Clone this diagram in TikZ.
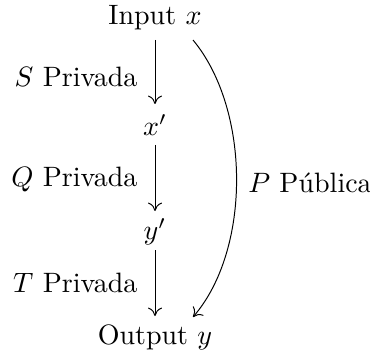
\documentclass[tikz,border=0pt]{standalone}
\usetikzlibrary{arrows.meta}
\begin{document}
\begin{tikzpicture}[x=0.357pt,y=-0.357pt,
  obj/.style={inner sep=0pt,outer sep=0pt},
  lbl/.style={inner sep=0pt,anchor=east},
  arr/.style={-{Computer Modern Rightarrow[length=3pt,width=5pt,line width=0.35pt]},line width=0.35pt}]
\useasboundingbox (0,0) rectangle (370,352);
\node[obj] (in) at (155,18) {Input $x$};
\node[obj] (xp) at (155,125) {$x'$};
\node[obj] (yp) at (155,232) {$y'$};
\node[obj] (out) at (155,337) {Output $y$};
\coordinate (a1) at (155,40); \coordinate (b1) at (155,104);
\coordinate (a2) at (155,145); \coordinate (b2) at (155,211);
\coordinate (a3) at (155,250); \coordinate (b3) at (155,316);
\draw[arr] (a1) -- (b1);
\draw[arr] (a2) -- (b2);
\draw[arr] (a3) -- (b3);
\node[lbl] (s) at (138,77) {$S$ Privada};
\node[lbl] (q) at (138,180) {$Q$ Privada};
\node[lbl] (t) at (138,283) {$T$ Privada};
\coordinate (c1) at (193,40);
\coordinate (c2) at (193,317);
\draw[arr] (c1) .. controls (251,110) and (251,250) .. (c2);
\node[obj] (p) at (310,183) {$P$ Pública};
\end{tikzpicture}
\end{document}
